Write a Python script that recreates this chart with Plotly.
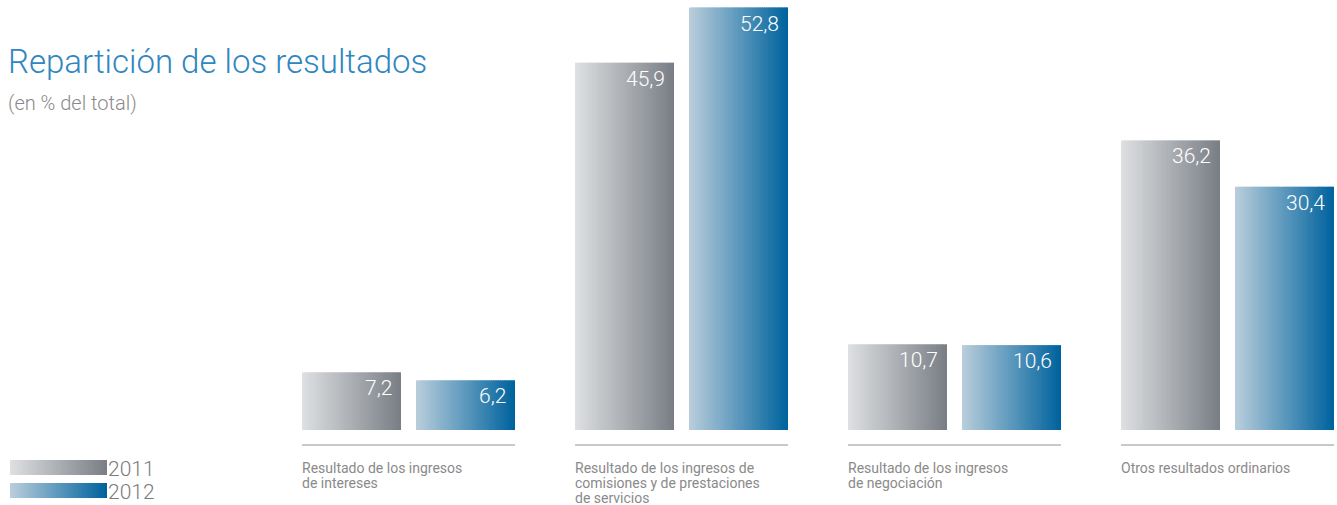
import plotly.graph_objects as go

# ---------------- data ----------------
categories = [
    "Resultado de los ingresos\nde intereses",
    "Resultado de los ingresos de\ncomisiones y de prestaciones\nde servicios",
    "Resultado de los ingresos\nde negociación",
    "Otros resultados ordinarios",
]
years = ["2011", "2012"]
values_2011 = [7.2, 45.9, 10.7, 36.2]
values_2012 = [6.2, 52.8, 10.6, 30.4]
value_labels_2011 = ["7,2", "45,9", "10,7", "36,2"]
value_labels_2012 = ["6,2", "52,8", "10,6", "30,4"]
title_text = "Repartición de los resultados"
subtitle_text = "(en % del total)"

# ---------------- style ----------------
W, H = 1337, 505
PX_PER_CAT = 273.0
X0_PX = 408.5          # pixel of category index 0
Y0_PX = 430.0          # pixel of value 0
PX_PER_VAL = 8.0
BAR_W = 99 / PX_PER_CAT
OFFSETS = [-106.5 / PX_PER_CAT, 7.5 / PX_PER_CAT]
GRADS = {
    "2011": ((221, 223, 225), (122, 127, 134)),
    "2012": ((184, 205, 219), (0, 99, 158)),
}
NSEG = 45
FONT = "Roboto"
TXT_GRAY = "#8a8a8a"

xr = [-X0_PX / PX_PER_CAT, (W - X0_PX) / PX_PER_CAT]
yr = [-(H - Y0_PX) / PX_PER_VAL, Y0_PX / PX_PER_VAL]


def lerp(c0, c1, t):
    return "rgb(%d,%d,%d)" % tuple(round(a + (b - a) * t) for a, b in zip(c0, c1))


fig = go.Figure()
xs = list(range(len(categories)))
series = [values_2011, values_2012]
labels = [value_labels_2011, value_labels_2012]

for yi, (yr_name, vals) in enumerate(zip(years, series)):
    c0, c1 = GRADS[yr_name]
    step = BAR_W / NSEG
    for k in range(NSEG):
        t = k / (NSEG - 1)
        w = step * 1.7 if k < NSEG - 1 else step
        fig.add_trace(go.Bar(
            x=xs, y=vals, base=0,
            offset=OFFSETS[yi] + k * step, width=w,
            marker=dict(color=lerp(c0, c1, t), line=dict(width=0)),
            showlegend=False, hoverinfo="skip",
        ))
    for i, (v, lab) in enumerate(zip(vals, labels[yi])):
        fig.add_annotation(
            x=i + OFFSETS[yi] + BAR_W, y=v, xref="x", yref="y",
            text=lab, showarrow=False, xanchor="right", yanchor="top",
            xshift=-7, yshift=-2,
            font=dict(family=FONT, size=21, color="white", weight=300),
        )

# baselines and category labels
for i, cat in enumerate(categories):
    left = i + OFFSETS[0]
    right = i + OFFSETS[1] + BAR_W
    fig.add_shape(type="line", xref="x", yref="y",
                  x0=left, x1=right, y0=-15 / PX_PER_VAL, y1=-15 / PX_PER_VAL,
                  line=dict(color="#8f9297", width=1))
    for j, line in enumerate(cat.split("\n")):
        fig.add_annotation(
            x=left, y=-28 / PX_PER_VAL, xref="x", yref="y",
            text=line, showarrow=False, xanchor="left", yanchor="top",
            xshift=-2, yshift=-15 * j,
            font=dict(family=FONT, size=14, color=TXT_GRAY),
        )

# title / subtitle
fig.add_annotation(x=6 / W, y=1 - 40 / H, xref="paper", yref="paper",
                   text=title_text, showarrow=False, xanchor="left", yanchor="top",
                   font=dict(family=FONT, size=33, color="#2f86c0", weight=300))
fig.add_annotation(x=6 / W, y=1 - 89 / H, xref="paper", yref="paper",
                   text=subtitle_text, showarrow=False, xanchor="left", yanchor="top",
                   font=dict(family=FONT, size=20, color=TXT_GRAY, weight=300))

# legend (gradient swatches)
LEG_X0, LEG_X1 = 10, 107
LEG_ROWS = [(460, 475), (483, 498)]
for yi, yr_name in enumerate(years):
    c0, c1 = GRADS[yr_name]
    top, bot = LEG_ROWS[yi]
    nseg = 40
    step = (LEG_X1 - LEG_X0) / nseg
    for k in range(nseg):
        t = k / (nseg - 1)
        xa = LEG_X0 + k * step
        xb = xa + (step * 1.7 if k < nseg - 1 else step)
        fig.add_shape(type="rect", xref="paper", yref="paper",
                      x0=xa / W, x1=xb / W, y0=1 - bot / H, y1=1 - top / H,
                      fillcolor=lerp(c0, c1, t), line=dict(width=0), layer="above")
    fig.add_annotation(x=LEG_X1 / W, y=1 - (top + bot) / 2 / H, xref="paper", yref="paper",
                       text=yr_name, showarrow=False, xanchor="left", yanchor="middle",
                       xshift=-1, yshift=-1,
                       font=dict(family=FONT, size=21, color="#7b7b7b", weight=300))

fig.update_layout(
    width=W, height=H,
    margin=dict(l=0, r=0, t=0, b=0),
    barmode="overlay",
    paper_bgcolor="white", plot_bgcolor="white",
    xaxis=dict(range=xr, visible=False, fixedrange=True),
    yaxis=dict(range=yr, visible=False, fixedrange=True),
    showlegend=False,
)
fig.write_html("out.html")
